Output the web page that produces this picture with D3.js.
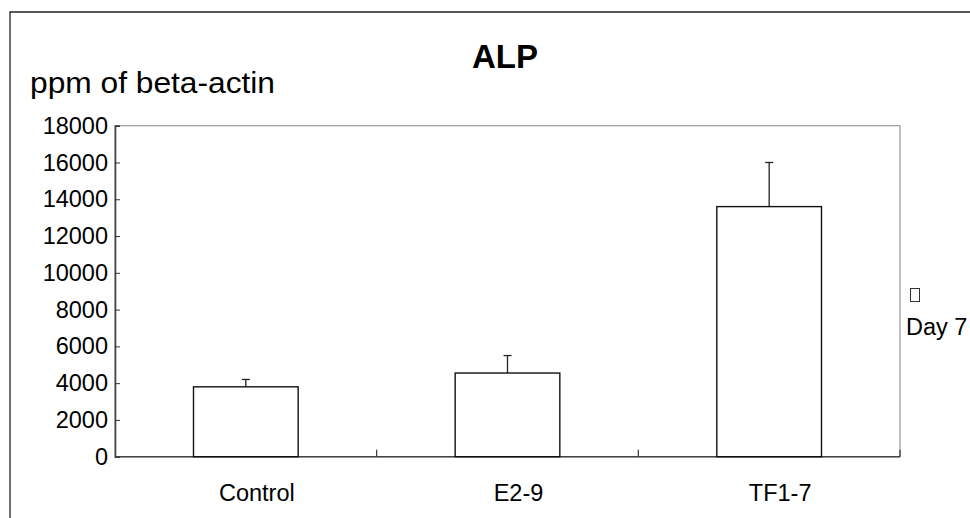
<!DOCTYPE html>
<html>
<head>
<meta charset="utf-8">
<script src="https://cdn.jsdelivr.net/npm/d3@7"></script>
<style>
  html, body { margin: 0; padding: 0; background: #fff; }
  svg { display: block; font-family: Arial, "Liberation Sans", sans-serif; }
</style>
</head>
<body>
<svg id="chart" width="970" height="518"></svg>
<script>
const categories = ["Control", "E2-9", "TF1-7"];
const values = [3800, 4550, 13600];
const errorTops = [4200, 5500, 16000];
const yTicks = [0, 2000, 4000, 6000, 8000, 10000, 12000, 14000, 16000, 18000];
const chartTitle = "ALP";
const yTitle = "ppm of beta-actin";
const legendLabel = "Day 7";

const svg = d3.select("#chart");
const plot = { left: 115, right: 900, top: 125.7, bottom: 456.7 };

// outer frame
svg.append("path")
  .attr("d", "M10,530 L10,12 L980,12")
  .attr("fill", "none").attr("stroke", "#222").attr("stroke-width", 1.3);

const x = d3.scaleBand().domain(categories).range([plot.left, plot.right]).padding(0);
const y = d3.scaleLinear().domain([0, 18000]).range([plot.bottom, plot.top]);

// plot area border (grey)
svg.append("rect")
  .attr("x", plot.left).attr("y", plot.top)
  .attr("width", plot.right - plot.left).attr("height", plot.bottom - plot.top)
  .attr("fill", "none").attr("stroke", "#999").attr("stroke-width", 1.2);

// y axis
const yAxis = svg.append("g")
  .attr("transform", `translate(${plot.left},0)`)
  .call(d3.axisRight(y).tickValues(yTicks).tickSize(5).tickFormat(d3.format("d")));
yAxis.select(".domain").attr("stroke", "#444").attr("stroke-width", 1.6);
yAxis.selectAll(".tick line").attr("stroke", "#333");
yAxis.selectAll(".tick text")
  .attr("x", -7).attr("text-anchor", "end")
  .attr("font-size", 23.5).attr("fill", "#000").attr("font-family", "Arial, 'Liberation Sans', sans-serif");

// x axis: boundary ticks
const boundaries = categories.map(c => x(c)).concat([plot.right]);
const xg = svg.append("g");
xg.append("line")
  .attr("x1", plot.left).attr("x2", plot.right)
  .attr("y1", y(0)).attr("y2", y(0))
  .attr("stroke", "#444").attr("stroke-width", 1.6);
xg.selectAll("line.bt").data(boundaries.slice(1)).enter().append("line")
  .attr("class", "bt")
  .attr("x1", d => d).attr("x2", d => d)
  .attr("y1", y(0)).attr("y2", y(0) - 7)
  .attr("stroke", "#333").attr("stroke-width", 1.2);
xg.selectAll("text").data(categories).enter().append("text")
  .attr("x", d => x(d) + x.bandwidth() / 2 + 11)
  .attr("y", 501)
  .attr("text-anchor", "middle")
  .attr("font-size", 23.5)
  .text(d => d);

// bars
const barW = x.bandwidth() * 0.4;
const data = categories.map((c, i) => ({ c, v: values[i], e: errorTops[i] }));

svg.selectAll("line.err").data(data).enter().append("line")
  .attr("class", "err")
  .attr("x1", d => x(d.c) + x.bandwidth() / 2).attr("x2", d => x(d.c) + x.bandwidth() / 2)
  .attr("y1", d => y(d.v)).attr("y2", d => y(d.e))
  .attr("stroke", "#222").attr("stroke-width", 1.3);
svg.selectAll("line.cap").data(data).enter().append("line")
  .attr("class", "cap")
  .attr("x1", d => x(d.c) + x.bandwidth() / 2 - 4).attr("x2", d => x(d.c) + x.bandwidth() / 2 + 4)
  .attr("y1", d => y(d.e)).attr("y2", d => y(d.e))
  .attr("stroke", "#222").attr("stroke-width", 1.3);

svg.selectAll("rect.bar").data(data).enter().append("rect")
  .attr("class", "bar")
  .attr("x", d => x(d.c) + (x.bandwidth() - barW) / 2)
  .attr("y", d => y(d.v))
  .attr("width", barW)
  .attr("height", d => y(0) - y(d.v))
  .attr("fill", "#fff").attr("stroke", "#111").attr("stroke-width", 1.4);

// titles
svg.append("text")
  .attr("x", 505).attr("y", 67.7)
  .attr("text-anchor", "middle")
  .attr("font-size", 33).attr("font-weight", "bold")
  .text(chartTitle);

svg.append("text")
  .attr("x", 30).attr("y", 93)
  .attr("font-size", 29)
  .attr("textLength", 245).attr("lengthAdjust", "spacingAndGlyphs")
  .text(yTitle);

// legend
svg.append("rect")
  .attr("x", 910.5).attr("y", 288.5).attr("width", 9).attr("height", 13)
  .attr("fill", "#fff").attr("stroke", "#333").attr("stroke-width", 1);
svg.append("text")
  .attr("x", 906).attr("y", 335)
  .attr("font-size", 23.5)
  .text(legendLabel);
</script>
</body>
</html>
